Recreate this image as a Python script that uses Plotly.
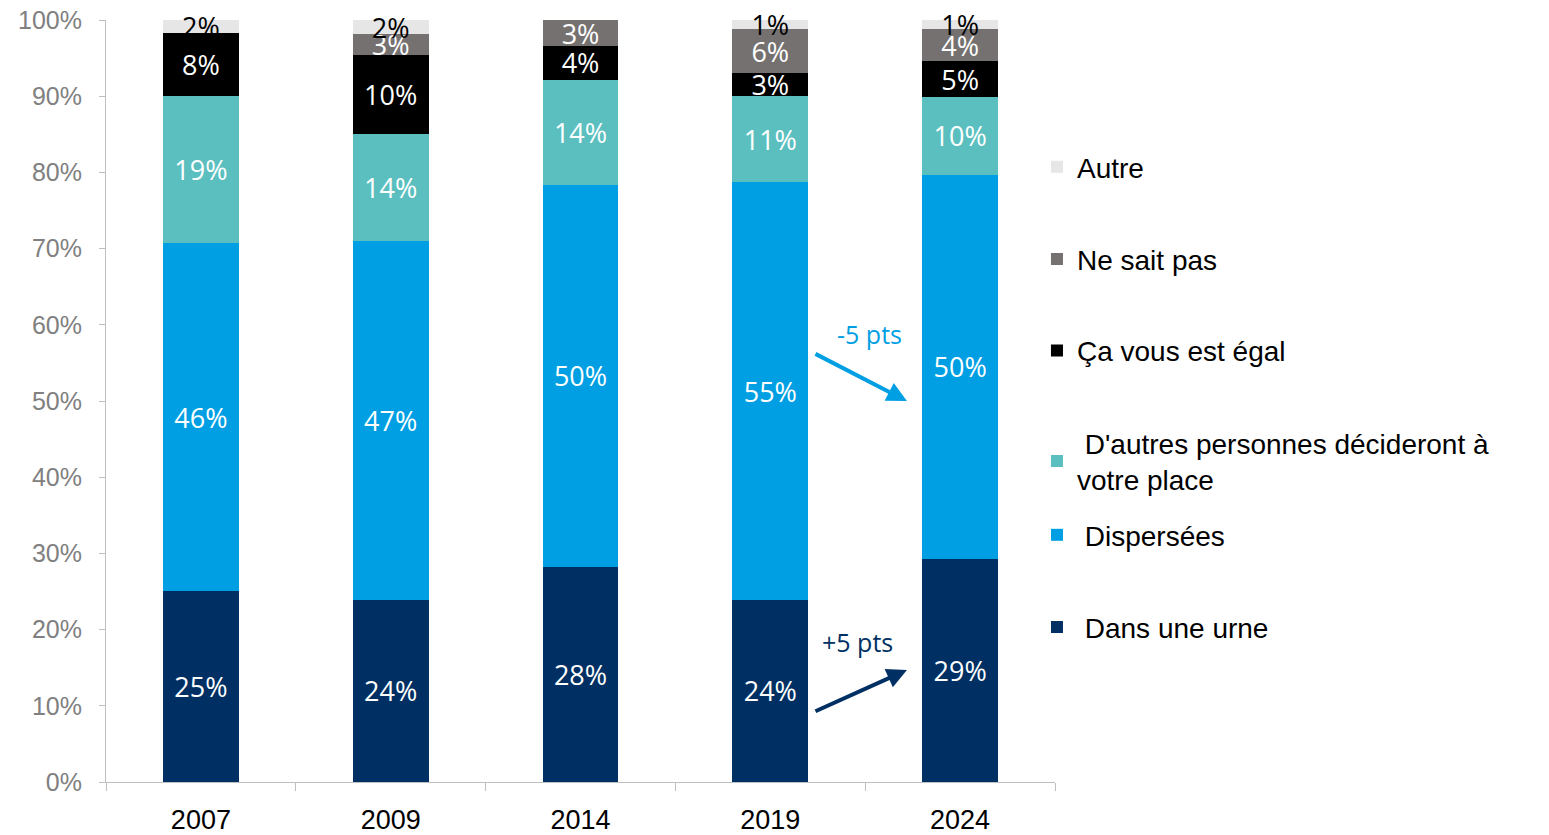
import plotly.graph_objects as go

# Données (en %)
annees = ["2007", "2009", "2014", "2019", "2024"]
urne = [25.1, 23.9, 28.2, 23.9, 29.3]
dispersees = [45.6, 47.1, 50.2, 54.8, 50.4]
autres_personnes = [19.4, 14.0, 13.8, 11.3, 10.2]
egal = [8.2, 10.4, 4.4, 3.0, 4.7]
ne_sait_pas = [0.0, 2.8, 3.4, 5.8, 4.2]
autre = [1.7, 1.8, 0.0, 1.2, 1.2]
graduations = list(range(0, 101, 10))

series = [
    ("\u00a0Dans une urne", urne, "#003063", "white"),
    ("\u00a0Dispersées", dispersees, "#009FE3", "white"),
    ("\u00a0D'autres personnes décideront à<br>votre place", autres_personnes, "#5BBFBF", "white"),
    ("Ça vous est égal", egal, "#000000", "white"),
    ("Ne sait pas", ne_sait_pas, "#767171", "white"),
    ("Autre", autre, "#E7E6E6", "black"),
]

# position verticale de chaque légende (fraction du papier)
legend_y = [0.203, 0.324, 0.421, 0.566, 0.686, 0.807]

fig = go.Figure()

for i, (name, values, color, text_color) in enumerate(series):
    legend_id = "legend" if i == 0 else f"legend{i + 1}"
    fig.add_trace(
        go.Bar(
            x=annees,
            y=values,
            name=name,
            marker=dict(color=color, line=dict(width=0)),
            text=[f"{round(v)}%" if v > 0 else "" for v in values],
            textposition="inside",
            insidetextanchor="middle",
            textangle=0,
            textfont=dict(family="Open Sans", size=27, color=text_color),
            cliponaxis=False,
            width=0.4,
            legend=legend_id,
            hoverinfo="skip",
        )
    )

legends = {}
for i, y in enumerate(legend_y):
    key = "legend" if i == 0 else f"legend{i + 1}"
    legends[key] = dict(
        x=0.981,
        y=y,
        xanchor="left",
        yanchor="middle",
        bgcolor="rgba(0,0,0,0)",
        font=dict(family="Arial", size=28, color="black"),
        itemclick=False,
        itemdoubleclick=False,
    )

# flèches d'évolution entre 2019 et 2024
fig.add_annotation(
    x=3.72, y=50.0, ax=3.23, ay=56.3,
    xref="x", yref="y", axref="x", ayref="y",
    showarrow=True, arrowhead=2, arrowsize=1.0, arrowwidth=4,
    arrowcolor="#009FE3", text="",
)
fig.add_annotation(
    x=3.52, y=58.8, xref="x", yref="y", showarrow=False,
    text="-5 pts", font=dict(family="Open Sans", size=25, color="#009FE3"),
)
fig.add_annotation(
    x=3.72, y=14.7, ax=3.23, ay=9.2,
    xref="x", yref="y", axref="x", ayref="y",
    showarrow=True, arrowhead=2, arrowsize=1.0, arrowwidth=4,
    arrowcolor="#003063", text="",
)
fig.add_annotation(
    x=3.46, y=18.4, xref="x", yref="y", showarrow=False,
    text="+5 pts", font=dict(family="Open Sans", size=25, color="#003063"),
)

# la page ajoute 8 px de marge autour du graphique : on compense
fig.update_layout(
    barmode="stack",
    width=1549,
    height=835,
    margin=dict(l=98, r=502, t=12, b=61),
    plot_bgcolor="white",
    paper_bgcolor="white",
    uniformtext=dict(minsize=27, mode="show"),
    showlegend=True,
    **legends,
)

fig.update_xaxes(
    automargin=False,
    showline=True,
    linecolor="#BFBFBF",
    linewidth=1,
    ticks="outside",
    tickson="boundaries",
    ticklen=8,
    tickcolor="#BFBFBF",
    ticklabelstandoff=14,
    ticklabeloverflow="allow",
    tickfont=dict(family="Arial", size=27, color="black"),
    showgrid=False,
)
fig.update_yaxes(
    automargin=False,
    range=[0, 100.02],  # petite marge : les cumuls flottants dépassent 100 de 1e-14
    tickvals=graduations,
    ticktext=[f"{v}%" for v in graduations],
    showline=True,
    linecolor="#BFBFBF",
    linewidth=1,
    ticks="outside",
    ticklen=6,
    tickcolor="#BFBFBF",
    ticklabelstandoff=12,
    ticklabeloverflow="allow",
    tickfont=dict(family="Arial", size=25, color="#808080"),
    showgrid=False,
    zeroline=False,
)

fig.write_html("out.html")
